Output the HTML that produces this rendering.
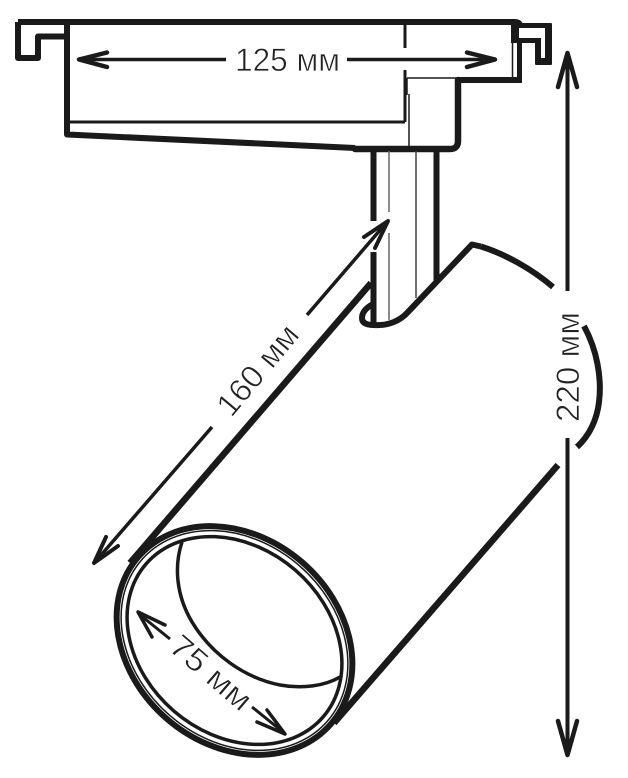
<!DOCTYPE html>
<html>
<head>
<meta charset="utf-8">
<style>
html,body{margin:0;padding:0;background:#fff;width:628px;height:778px;overflow:hidden}
svg{display:block}
text{font-family:"Liberation Sans",sans-serif;font-size:32px;fill:#222;stroke:#fff;stroke-width:.65px;paint-order:normal}
</style>
</head>
<body>
<svg width="628" height="778" viewBox="0 0 628 778" xmlns="http://www.w3.org/2000/svg">
<rect width="628" height="778" fill="#fff"/>
<g fill="none" stroke="#1a1a1a" stroke-linejoin="round" stroke-linecap="butt">
  <!-- track adapter -->
  <path d="M67 22H515Q519 22 520 25" stroke-width="6"/>
  <path d="M18 22H67M18 22V58H38V36.500H67" stroke-width="6"/>
  <path d="M67 22V134.500L355 148" stroke-width="6"/>
  <path d="M70 122H405" stroke-width="3"/>
  <path d="M405 25V48M405 70V122" stroke-width="3"/>
  <path d="M407 78V95" stroke-width="1.500"/>
  <path d="M409 94V147" stroke-width="1.500"/>
  <path d="M407 78H458" stroke-width="1.500"/>
  <path d="M355 149H450Q458 149 458 141V80" stroke-width="6.500" stroke-linecap="round"/>
  <path d="M458 80H522" stroke-width="6"/>
  <path d="M519.500 43V83" stroke-width="5"/>
  <path d="M512.500 43V78" stroke-width="1.500"/>
  <!-- stem -->
  <path d="M373.500 151V221M373.500 252V323" stroke-width="6"/>
  <path d="M389 151V212M389 233V320" stroke-width="1.500" stroke="#666"/>
  <path d="M416 151V298" stroke-width="1.500" stroke="#444"/>
  <path d="M436.500 151V281" stroke-width="6"/>
  <!-- hook & body -->
  <path d="M373 304Q362 310 362 318Q362 325 374 325C388 326 400 321 408 312L472 244.500L481 246.500" stroke-width="6"/>
  <path d="M481 246.500C505 254 532 269 553 287" stroke-width="6"/>
  <path d="M584 326C597 350 602 378 599 402C597 420 589 436 577 447" stroke-width="6"/>
  <path d="M371 283L130 563" stroke-width="6.500"/>
  <path d="M558 465L334 723" stroke-width="6.500"/>
  <!-- lens rings -->
  <g transform="translate(234.500 640.500) rotate(40.800)">
    <ellipse rx="127.500" ry="103.500" stroke-width="6"/>
    <ellipse rx="123" ry="99" stroke-width="1.500"/>
    <ellipse rx="117" ry="93" stroke-width="3.500"/>
  </g>
  <path d="M182 542C174 566 176 595 192 622C212 655 245 678 280 685C302 689 325 686 340 677" stroke-width="3.500"/>
  <!-- 125 -->
  <path d="M79 59.500H226M347 59.500H494" stroke-width="3.500"/>
  <path d="M107 52.500L79 59.500L107 67M467 52.500L495 59.500L467 67" stroke-width="4.500" stroke-linecap="round"/>
  <!-- 220 -->
  <path d="M567.500 54V291M567.500 438V752" stroke-width="4"/>
  <path d="M558 87L567.500 53L577 87M558 721L567.500 755L577 721" stroke-width="4.500" stroke-linecap="round"/>
  <!-- 160 -->
  <path d="M387 222L307 315M212 427L95 562" stroke-width="3.500"/>
  <path d="M364 237L388 221L375 248M118 546L94 563L106 537" stroke-width="4" stroke-linecap="round"/>
  <!-- 75 -->
  <path d="M139 614L170 639M252 707L283 732" stroke-width="3"/>
  <path d="M165 625L138 612L152 637M257 722L285 734L267 710" stroke-width="3.500" stroke-linecap="round"/>
</g>
<!-- right clip -->
<g fill="#1a1a1a">
  <rect x="511" y="20" width="8" height="23"/>
  <rect x="517" y="23" width="35" height="5" rx="1.500"/>
  <rect x="517" y="38" width="24" height="5"/>
  <rect x="535" y="38" width="6" height="27" rx="1.500"/>
  <rect x="545" y="23" width="7" height="42" rx="1.500"/>
  <rect x="535" y="58" width="17" height="7" rx="1.500"/>
</g>
<text x="235" y="71" textLength="105" lengthAdjust="spacingAndGlyphs">125 мм</text>
<text transform="translate(579 367) rotate(-90)" text-anchor="middle" textLength="110" lengthAdjust="spacingAndGlyphs">220 мм</text>
<text transform="translate(266 377) rotate(-50)" text-anchor="middle" textLength="108" lengthAdjust="spacingAndGlyphs">160 мм</text>
<text transform="translate(204 681) rotate(40.800)" text-anchor="middle" textLength="97" lengthAdjust="spacingAndGlyphs">75 мм</text>
</svg>
</body>
</html>
